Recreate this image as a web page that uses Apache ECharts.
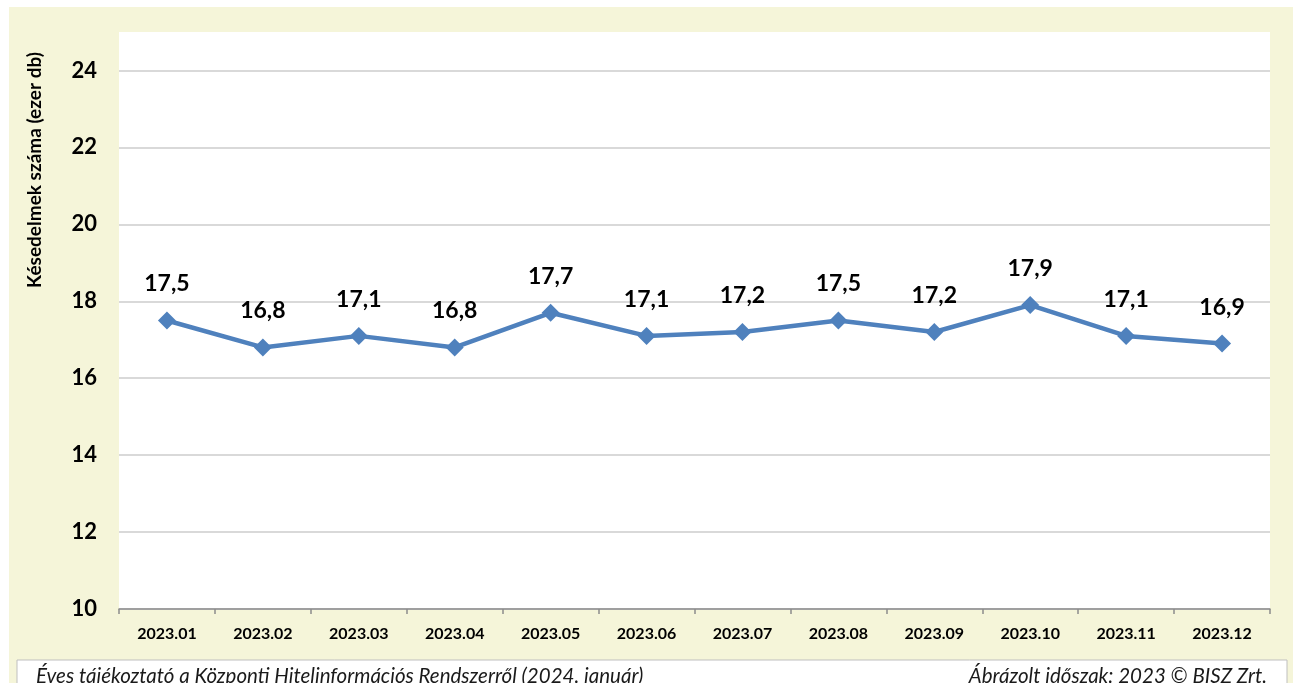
<!DOCTYPE html>
<html>
<head>
<meta charset="utf-8">
<script src="https://cdn.jsdelivr.net/npm/echarts@6/dist/echarts.min.js"></script>
<style>
  html, body { margin: 0; padding: 0; background: #ffffff; }
  #chart { width: 1293px; height: 683px; }
</style>
</head>
<body>
<div id="chart"></div>
<script>
// Monthly number of delinquencies (thousand items), 2023
const months = ['2023.01', '2023.02', '2023.03', '2023.04', '2023.05', '2023.06',
                '2023.07', '2023.08', '2023.09', '2023.10', '2023.11', '2023.12'];
const delinquencies = [17.5, 16.8, 17.1, 16.8, 17.7, 17.1, 17.2, 17.5, 17.2, 17.9, 17.1, 16.9];
const yTicks = [10, 12, 14, 16, 18, 20, 22, 24];

const yAxisTitle = 'Késedelmek száma (ezer db)';
const footerLeft = 'Éves tájékoztató a Központi Hitelinformációs Rendszerről (2024. január)';
const footerRight = 'Ábrázolt időszak: 2023 © BISZ Zrt.';

const FONT = 'Lato, "Open Sans", sans-serif';
const chart = echarts.init(document.getElementById('chart'), null, { renderer: 'canvas' });

// Plot box spans y 32..609 and x 119..1270; value range 10..25
const PLOT_TOP = 32, PLOT_BOTTOM = 609, PLOT_LEFT = 119, PLOT_RIGHT = 1270;
const Y_MIN = 10, Y_MAX = 25;

chart.setOption({
  animation: false,
  backgroundColor: '#ffffff',
  graphic: [
    { type: 'rect', z: -10, silent: true,
      shape: { x: 9, y: 7, width: 1284, height: 676 },
      style: { fill: '#f5f5d9' } },
    { type: 'rect', z: -5, silent: true,
      shape: { x: 17, y: 660, width: 1270, height: 40 },
      style: { fill: '#ffffff', stroke: '#bfbfbf', lineWidth: 1 } },
    { type: 'text', silent: true,
      x: 36, y: 676,
      style: { text: footerLeft, font: 'italic 20.5px ' + FONT, fill: '#1a1a1a',
               textAlign: 'left', textVerticalAlign: 'middle' } },
    { type: 'text', silent: true,
      x: 1267, y: 676,
      style: { text: footerRight, font: 'italic 20.5px ' + FONT, fill: '#1a1a1a',
               textAlign: 'right', textVerticalAlign: 'middle' } },
    { type: 'text', silent: true,
      x: 35, y: 170, rotation: Math.PI / 2,
      style: { text: yAxisTitle, font: 'bold 19px ' + FONT, fill: '#000000',
               textAlign: 'center', textVerticalAlign: 'middle' } }
  ],
  grid: {
    left: PLOT_LEFT, right: 1293 - PLOT_RIGHT, top: PLOT_TOP, bottom: 683 - PLOT_BOTTOM,
    show: true, backgroundColor: '#ffffff', borderWidth: 0
  },
  xAxis: {
    type: 'category',
    data: months,
    boundaryGap: true,
    axisLine: { show: true, lineStyle: { color: '#8c8c8c', width: 1.5 } },
    axisTick: { show: true, length: 5, alignWithLabel: false, lineStyle: { color: '#8c8c8c', width: 1.5 } },
    axisLabel: { margin: 17, color: '#000000', fontFamily: FONT, fontWeight: 'bold', fontSize: 16 },
    splitLine: { show: false }
  },
  yAxis: {
    type: 'value',
    min: Y_MIN, max: Y_MAX, interval: 2,
    axisLine: { show: false },
    axisTick: { show: false },
    axisLabel: {
      margin: 22, color: '#000000', fontFamily: FONT, fontWeight: 'bold', fontSize: 22,
      showMaxLabel: false,
      formatter: v => (yTicks.includes(v) ? String(v) : '')
    },
    splitLine: {
      show: true,
      showMaxLine: false,
      lineStyle: { color: '#d9d9d9', width: 2 }
    }
  },
  series: [{
    type: 'line',
    data: delinquencies,
    symbol: 'diamond',
    symbolSize: 18,
    lineStyle: { color: '#4f81bd', width: 4.5 },
    itemStyle: { color: '#4f81bd' },
    label: {
      show: true,
      position: 'top',
      distance: 16,
      color: '#000000',
      fontFamily: FONT,
      fontWeight: 'bold',
      fontSize: 23,
      formatter: p => p.value.toFixed(1).replace('.', ',')
    }
  }]
});
</script>
</body>
</html>
